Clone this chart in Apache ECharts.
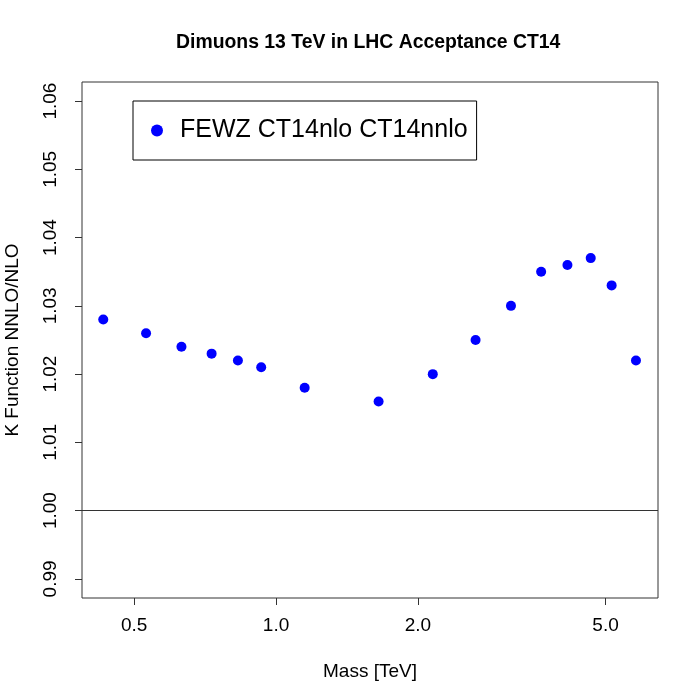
<!DOCTYPE html>
<html>
<head>
<meta charset="utf-8">
<script src="https://cdn.jsdelivr.net/npm/echarts@6/dist/echarts.min.js"></script>
<style>
  html, body { margin: 0; padding: 0; background: #fff; }
  #chart { width: 700px; height: 700px; }
</style>
</head>
<body>
<div id="chart"></div>
<script>
// mass bin centres [TeV] and K factor NNLO/NLO
const masses = [0.43, 0.53, 0.63, 0.73, 0.83, 0.93, 1.15, 1.65, 2.15, 2.65, 3.15, 3.65, 4.15, 4.65, 5.15, 5.8];
const kFactor = [1.028, 1.026, 1.024, 1.023, 1.022, 1.021, 1.018, 1.016, 1.020, 1.025, 1.030, 1.035, 1.036, 1.037, 1.033, 1.022];
const xTicks = [0.5, 1, 2, 5];
const yTicks = [0.99, 1.00, 1.01, 1.02, 1.03, 1.04, 1.05, 1.06];
const seriesName = 'FEWZ CT14nlo CT14nnlo';

const font = 'Liberation Sans, Arial, Helvetica, sans-serif';
const chart = echarts.init(document.getElementById('chart'));

const points = masses.map((m, i) => [m, kFactor[i]]);

chart.setOption({
  animation: false,
  backgroundColor: '#fff',
  title: {
    text: 'Dimuons 13 TeV in LHC Acceptance CT14',
    left: 176,
    top: 33,
    padding: 0,
    textStyle: { fontFamily: font, fontSize: 19.4, fontWeight: 'bold', color: '#000' }
  },
  legend: {
    left: 133,
    top: 101,
    orient: 'horizontal',
    padding: [17, 9, 17, 18],
    borderColor: '#000',
    borderWidth: 1,
    itemWidth: 36,
    itemHeight: 12,
    icon: 'circle',
    itemStyle: { opacity: 1 },
    textStyle: { fontFamily: font, fontSize: 25, color: '#000' },
    data: [seriesName]
  },
  grid: {
    left: 82, right: 42, top: 82, bottom: 102,
    show: true, borderColor: '#333', borderWidth: 1,
    containLabel: false,
    outerBoundsMode: 'none'
  },
  xAxis: {
    type: 'log',
    logBase: 10,
    min: 0.3876,
    max: 6.459,
    name: 'Mass [TeV]',
    nameLocation: 'middle',
    nameGap: 64,
    nameTextStyle: { fontFamily: font, fontSize: 19, color: '#000' },
    axisLine: { show: false },
    splitLine: { show: false },
    minorTick: { show: false },
    axisTick: { show: true, inside: false, length: 7, customValues: xTicks, lineStyle: { color: '#333' } },
    axisLabel: {
      customValues: xTicks,
      margin: 18,
      fontFamily: font, fontSize: 19, color: '#000',
      formatter: v => Number(v).toFixed(1)
    }
  },
  yAxis: {
    type: 'value',
    min: 0.9872,
    max: 1.0628,
    name: 'K Function NNLO/NLO',
    nameLocation: 'middle',
    nameGap: 60,
    nameTextStyle: { fontFamily: font, fontSize: 19, color: '#000' },
    axisLine: { show: false },
    splitLine: { show: false },
    axisTick: { show: true, inside: false, length: 7, customValues: yTicks, lineStyle: { color: '#333' } },
    axisLabel: {
      customValues: yTicks,
      rotate: 90,
      margin: 22,
      fontFamily: font, fontSize: 19, color: '#000',
      formatter: v => Number(v).toFixed(2)
    }
  },
  series: [{
    name: seriesName,
    type: 'scatter',
    data: points,
    symbol: 'circle',
    symbolSize: 10,
    itemStyle: { color: '#0000ff', opacity: 1 },
    markLine: {
      silent: true,
      symbol: 'none',
      label: { show: false },
      lineStyle: { color: '#333', width: 1, type: 'solid' },
      data: [{ yAxis: 1.0 }]
    }
  }]
});
</script>
</body>
</html>
